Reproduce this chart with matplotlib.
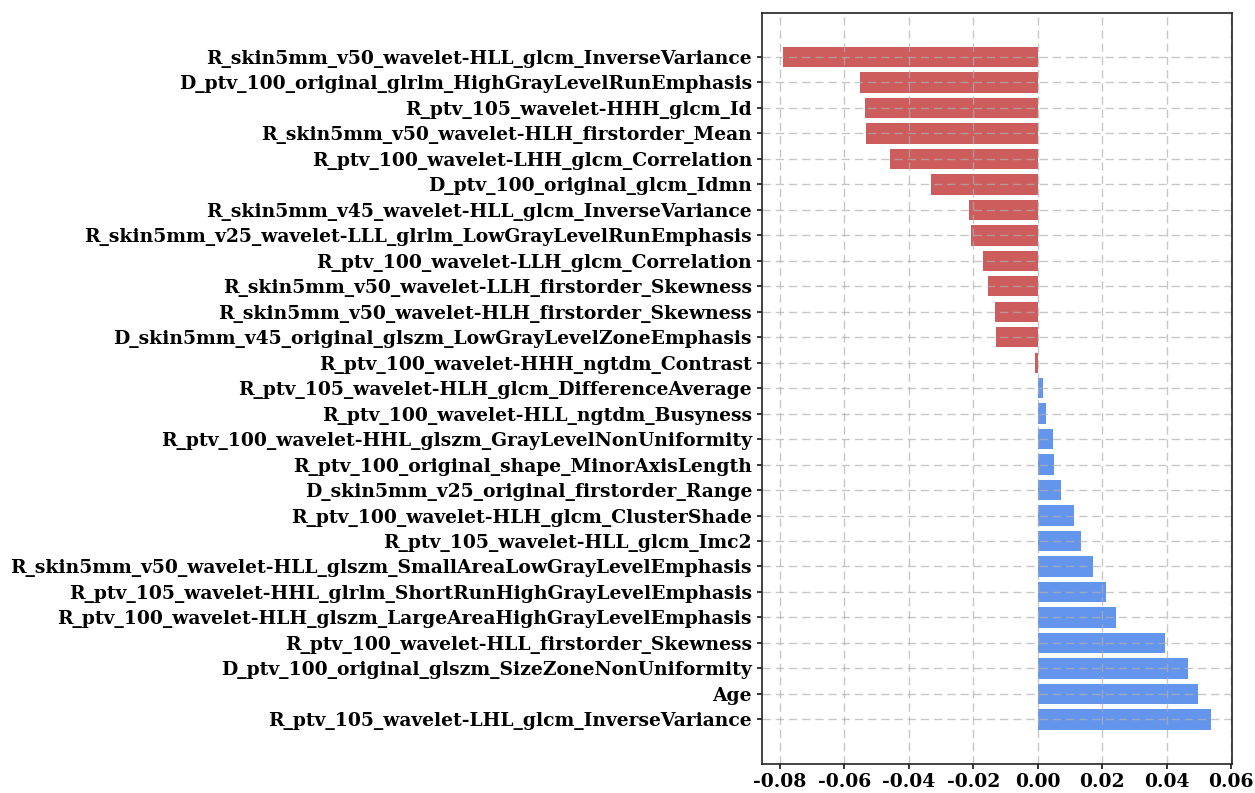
import matplotlib
matplotlib.use("Agg")
import matplotlib.pyplot as plt

# feature names, top to bottom as shown
features = [
    "R_skin5mm_v50_wavelet-HLL_glcm_InverseVariance",
    "D_ptv_100_original_glrlm_HighGrayLevelRunEmphasis",
    "R_ptv_105_wavelet-HHH_glcm_Id",
    "R_skin5mm_v50_wavelet-HLH_firstorder_Mean",
    "R_ptv_100_wavelet-LHH_glcm_Correlation",
    "D_ptv_100_original_glcm_Idmn",
    "R_skin5mm_v45_wavelet-HLL_glcm_InverseVariance",
    "R_skin5mm_v25_wavelet-LLL_glrlm_LowGrayLevelRunEmphasis",
    "R_ptv_100_wavelet-LLH_glcm_Correlation",
    "R_skin5mm_v50_wavelet-LLH_firstorder_Skewness",
    "R_skin5mm_v50_wavelet-HLH_firstorder_Skewness",
    "D_skin5mm_v45_original_glszm_LowGrayLevelZoneEmphasis",
    "R_ptv_100_wavelet-HHH_ngtdm_Contrast",
    "R_ptv_105_wavelet-HLH_glcm_DifferenceAverage",
    "R_ptv_100_wavelet-HLL_ngtdm_Busyness",
    "R_ptv_100_wavelet-HHL_glszm_GrayLevelNonUniformity",
    "R_ptv_100_original_shape_MinorAxisLength",
    "D_skin5mm_v25_original_firstorder_Range",
    "R_ptv_100_wavelet-HLH_glcm_ClusterShade",
    "R_ptv_105_wavelet-HLL_glcm_Imc2",
    "R_skin5mm_v50_wavelet-HLL_glszm_SmallAreaLowGrayLevelEmphasis",
    "R_ptv_105_wavelet-HHL_glrlm_ShortRunHighGrayLevelEmphasis",
    "R_ptv_100_wavelet-HLH_glszm_LargeAreaHighGrayLevelEmphasis",
    "R_ptv_100_wavelet-HLL_firstorder_Skewness",
    "D_ptv_100_original_glszm_SizeZoneNonUniformity",
    "Age",
    "R_ptv_105_wavelet-LHL_glcm_InverseVariance",
]

coefs = [
    -0.0789, -0.0550, -0.0536, -0.0533, -0.0458, -0.0332,
    -0.0214, -0.0207, -0.0170, -0.0155, -0.0133, -0.0130,
    -0.0007, 0.0015, 0.0027, 0.0048, 0.0050, 0.0073,
    0.0111, 0.0135, 0.0172, 0.0210, 0.0241, 0.0395,
    0.0466, 0.0497, 0.0537,
]

colors = ["indianred" if c < 0 else "cornflowerblue" for c in coefs]

plt.rcParams["font.family"] = "DejaVu Serif"
plt.rcParams["font.weight"] = "bold"
plt.rcParams["axes.unicode_minus"] = False

fig = plt.figure(figsize=(12.55, 7.93), dpi=100)
ax = fig.add_axes([0.607, 0.037, 0.375, 0.947])

ax.barh(features, coefs, color=colors, height=0.8)
ax.invert_yaxis()
ax.set_xticks([-0.08, -0.06, -0.04, -0.02, 0.00, 0.02, 0.04, 0.06])
ax.tick_params(labelsize=13.5, width=1.1)
for lbl in ax.get_xticklabels() + ax.get_yticklabels():
    lbl.set_fontweight("bold")
ax.grid(True, linestyle=(0, (6, 3.5)), color="#b0b0b0", alpha=0.7, linewidth=1)
for sp in ax.spines.values():
    sp.set_linewidth(1.2)
    sp.set_color("#222222")

fig.savefig("out.png", dpi=100)
